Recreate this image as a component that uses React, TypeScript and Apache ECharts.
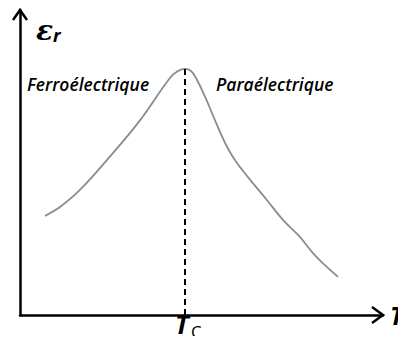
import React, { useEffect, useRef } from "react";
import * as echarts from "echarts";

const curveX = [6.9, 11.0, 16.5, 25.6, 33.1, 41.3, 43.5, 45.5, 47.1, 48.5, 51.0, 53.7, 56.5, 59.2, 62.8, 68.0, 72.5, 77.1, 80.7, 84.6, 87.6];
const curveY = [32.5, 35.4, 41.0, 53.1, 63.9, 77.7, 80.0, 80.7, 80.0, 77.7, 71.5, 63.9, 56.4, 50.8, 45.2, 37.7, 31.1, 25.6, 20.3, 15.7, 12.5];
const curieX = 45.5;
const peakY = 80.7;
const leftLabel = "Ferroélectrique";
const rightLabel = "Paraélectrique";

export default function App() {
  const ref = useRef<HTMLDivElement>(null);
  useEffect(() => {
    if (!ref.current) return;
    const chart = echarts.init(ref.current, null, { renderer: "svg" });
    const font = "'Open Sans', sans-serif";
    chart.setOption({
      animation: false,
      grid: { left: 20, top: 10, width: 363, height: 305, outerBoundsMode: "none", containLabel: false },
      xAxis: {
        type: "value", min: 0, max: 100,
        axisLine: { lineStyle: { color: "#000", width: 2.5 } },
        axisTick: { show: false }, axisLabel: { show: false }, splitLine: { show: false },
        name: "T", nameLocation: "end", nameGap: 7,
        nameTextStyle: { fontFamily: font, fontStyle: "italic", fontWeight: "bold", fontSize: 25, color: "#000", verticalAlign: "middle", align: "left", padding: [4, 0, 0, 0] },
      },
      yAxis: {
        type: "value", min: 0, max: 100,
        axisLine: { lineStyle: { color: "#000", width: 2.5 } },
        axisTick: { show: false }, axisLabel: { show: false }, splitLine: { show: false },
      },
      series: [
        {
          type: "line",
          data: curveX.map((x, i) => [x, curveY[i]]),
          smooth: 0.4,
          showSymbol: false,
          lineStyle: { color: "#8c8c8c", width: 1.8 },
          markLine: {
            silent: true,
            symbol: "none",
            lineStyle: { color: "#000", type: [6, 4], width: 2 },
            label: { show: false },
            data: [[{ coord: [curieX, 0] }, { coord: [curieX, peakY] }]],
          },
        },
      ],
      graphic: [
        { type: "polyline", shape: { points: [[13, 20], [20, 10], [27, 20]] }, style: { stroke: "#000", lineWidth: 2.5, fill: null } },
        { type: "polyline", shape: { points: [[372, 307], [383, 315], [372, 323]] }, style: { stroke: "#000", lineWidth: 2.5, fill: null } },
        {
          type: "text", left: 36, top: 16,
          style: {
            text: "{e|ε}{r|r}",
            rich: {
              e: { fontFamily: "'DejaVu Serif', serif", fontStyle: "italic", fontWeight: "bold", fontSize: 28, fill: "#000" },
              r: { fontFamily: font, fontStyle: "italic", fontWeight: "bold", fontSize: 18, fill: "#000", padding: [10, 0, 0, 0] },
            },
          },
        },
        { type: "text", left: 175, top: 311, style: { text: "T", fontFamily: font, fontStyle: "italic", fontWeight: "bold", fontSize: 26, fill: "#000" } },
        { type: "text", left: 191, top: 323, style: { text: "C", fontFamily: font, fontSize: 17, fill: "#000" } },
        { type: "text", left: 27, top: 75, style: { text: leftLabel, fontFamily: font, fontStyle: "italic", fontWeight: 600, fontSize: 17.5, fill: "#000" } },
        { type: "text", left: 216, top: 75, style: { text: rightLabel, fontFamily: font, fontStyle: "italic", fontWeight: 600, fontSize: 17.5, fill: "#000" } },
      ],
    });
    return () => chart.dispose();
  }, []);
  return <div ref={ref} style={{ width: 406, height: 344, margin: -8 }} />;
}
